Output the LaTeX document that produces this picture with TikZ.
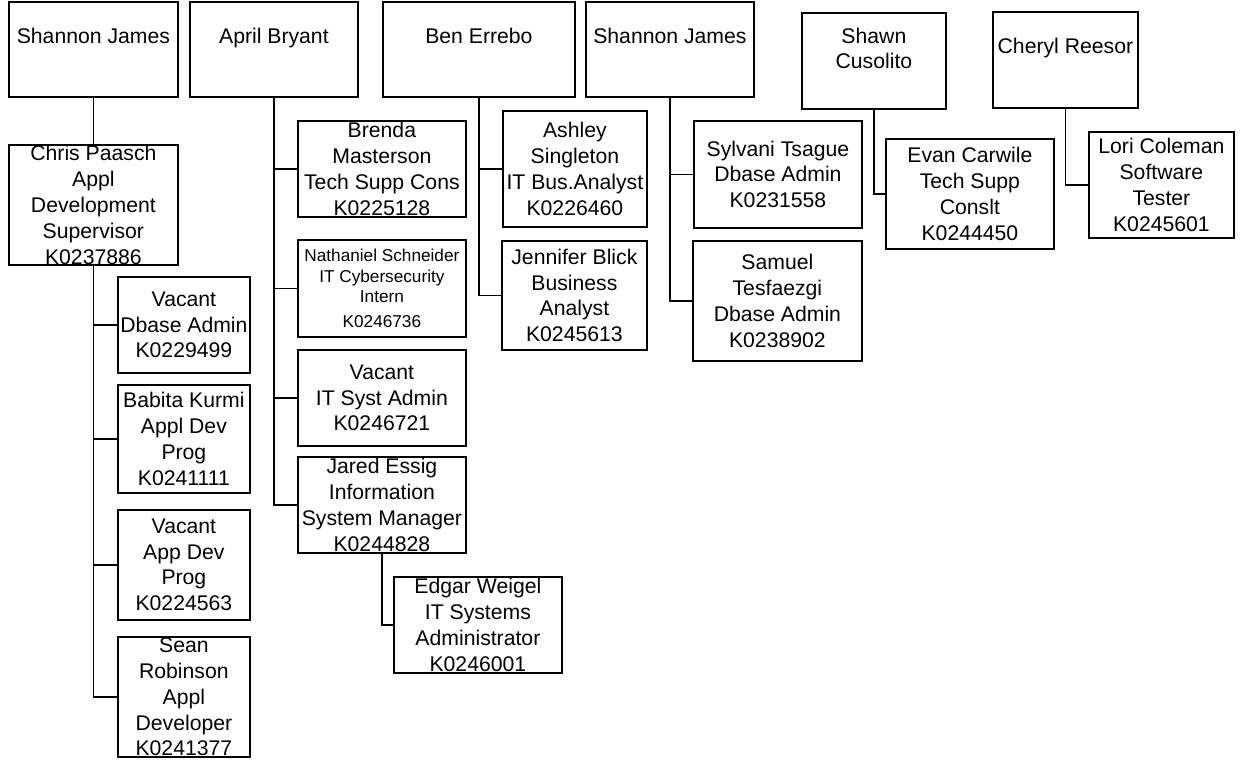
\documentclass[tikz,border=0pt]{standalone}
\usepackage{fontspec}
\setmainfont{Liberation Sans}
\begin{document}
\begin{tikzpicture}[x=1pt,y=-1pt,
  box/.style={draw, line width=1.8pt, inner sep=0pt, align=center, anchor=north west,
    font=\fontsize{21.2pt}{25.8pt}\selectfont},
  smallbox/.style={box, font=\fontsize{17.2pt}{20.5pt}\selectfont},
  headtext/.style={inner sep=0pt, align=center, anchor=north,
    font=\fontsize{21.2pt}{25.8pt}\selectfont},
  link/.style={line width=1.8pt}]
\useasboundingbox (0,0) rectangle (1242,760);

% top row of managers
\node[box, minimum width=169pt, minimum height=95pt] (sj1) at (8,1) {};
\node[box, minimum width=168pt, minimum height=95pt] (apr) at (189,1) {};
\node[box, minimum width=192pt, minimum height=95pt] (ben) at (382,1) {};
\node[box, minimum width=168pt, minimum height=95pt] (sj2) at (585,1) {};
\node[box, minimum width=144pt, minimum height=96pt] (shawn) at (801,12) {};
\node[box, minimum width=145pt, minimum height=96pt] (cheryl) at (992,11) {};

\node[headtext] (sj1t) at ([yshift=-26.5pt]sj1.north) {Shannon James};
\node[headtext] (aprt) at ([yshift=-26.5pt]apr.north) {April Bryant};
\node[headtext] (bent) at ([yshift=-26.5pt]ben.north) {Ben Errebo};
\node[headtext] (sj2t) at ([yshift=-26.5pt]sj2.north) {Shannon James};
\node[headtext] (shawnt) at ([yshift=-15.5pt]shawn.north) {Shawn\\Cusolito};
\node[headtext] (cherylt) at ([yshift=-26.5pt]cheryl.north) {Cheryl Reesor};

% Shannon James (left) branch
\node[box, minimum width=169pt, minimum height=120pt] (chris) at (8,144)
  {Chris Paasch\\Appl\\Development\\Supervisor\\K0237886};
\node[box, minimum width=132pt, minimum height=96pt] (vdb) at (117,276)
  {Vacant\\Dbase Admin\\K0229499};
\node[box, minimum width=132pt, minimum height=108pt] (babita) at (117,384)
  {Babita Kurmi\\Appl Dev\\Prog\\K0241111};
\node[box, minimum width=132pt, minimum height=110pt] (vapp) at (117,509)
  {Vacant\\App Dev\\Prog\\K0224563};
\node[box, minimum width=132pt, minimum height=120pt] (sean) at (117,636)
  {Sean\\Robinson\\Appl\\Developer\\K0241377};

% April Bryant branch
\node[box, minimum width=168pt, minimum height=96pt] (brenda) at (297,120)
  {Brenda\\Masterson\\Tech Supp Cons\\K0225128};
\node[smallbox, minimum width=168pt, minimum height=97pt] (nath) at (297,239)
  {Nathaniel Schneider\\IT Cybersecurity\\Intern\\[4.5pt]K0246736};
\node[box, minimum width=168pt, minimum height=96pt] (vit) at (297,349)
  {Vacant\\IT Syst Admin\\K0246721};
\node[box, minimum width=168pt, minimum height=96pt] (jared) at (297,456)
  {Jared Essig\\Information\\System Manager\\K0244828};
\node[box, minimum width=168pt, minimum height=96pt] (edgar) at (393,576)
  {Edgar Weigel\\IT Systems\\Administrator\\K0246001};

% Ben Errebo branch
\node[box, minimum width=144pt, minimum height=116pt] (ashley) at (502,110)
  {Ashley\\Singleton\\IT Bus.Analyst\\K0226460};
\node[box, minimum width=145pt, minimum height=109pt] (jennifer) at (501,240)
  {Jennifer Blick\\Business\\Analyst\\K0245613};

% Shannon James (right) branch
\node[box, minimum width=168pt, minimum height=107pt] (sylvani) at (693,120)
  {Sylvani Tsague\\Dbase Admin\\K0231558};
\node[box, minimum width=169pt, minimum height=120pt] (samuel) at (692,240)
  {Samuel\\Tesfaezgi\\Dbase Admin\\K0238902};

% Shawn Cusolito and Cheryl Reesor branches
\node[box, minimum width=168pt, minimum height=110pt] (evan) at (885,138)
  {Evan Carwile\\Tech Supp\\Conslt\\K0244450};
\node[box, minimum width=145pt, minimum height=106pt] (lori) at (1088,131)
  {Lori Coleman\\Software\\Tester\\K0245601};

% reporting lines
\draw[link] (sj1.south) -- (chris.north);
\foreach \c in {vdb,babita,vapp,sean} \draw[link] (chris.south) |- (\c.west);
\foreach \c in {brenda,nath,vit,jared} \draw[link] (apr.south) |- (\c.west);
\draw[link] (jared.south) |- (edgar.west);
\foreach \c in {ashley,jennifer} \draw[link] (ben.south) |- (\c.west);
\foreach \c in {sylvani,samuel} \draw[link] (sj2.south) |- (\c.west);
\draw[link] (shawn.south) |- (evan.west);
\draw[link] (cheryl.south) |- (lori.west);
\end{tikzpicture}
\end{document}
